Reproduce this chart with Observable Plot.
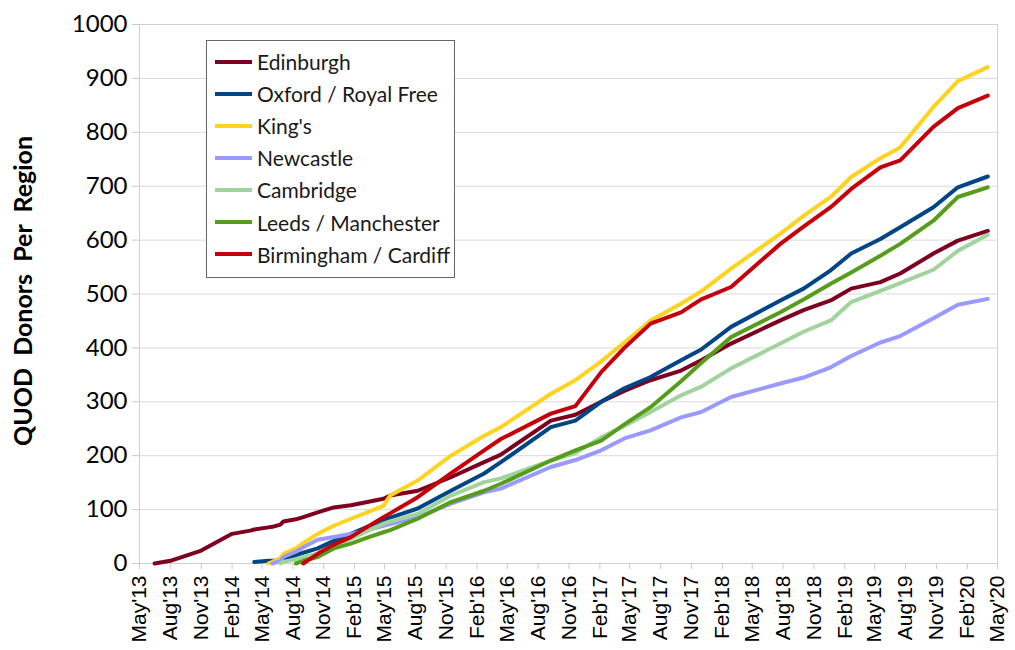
<!DOCTYPE html>
<html><head><meta charset="utf-8">
<script src="https://cdn.jsdelivr.net/npm/d3@7"></script>
<script src="https://cdn.jsdelivr.net/npm/@observablehq/plot@0.6"></script>
<style>
body{margin:0;background:#fff;}
#wrap{position:relative;width:1015px;height:650px;}
#legend{position:absolute;left:206px;top:40px;width:249px;height:238px;border:1px solid #666;background:#fff;box-sizing:border-box;font-family:Lato,sans-serif;font-size:21px;color:#1a1a1a;}
.row{position:absolute;left:0;height:32px;display:flex;align-items:center;white-space:nowrap;}
.sw{width:37px;height:4px;margin-left:8px;margin-right:5px;}
</style></head><body><div id="wrap"></div>
<script>
const dates = ["2013-06-15","2013-08-01","2013-11-01","2014-02-01","2014-03-27","2014-04-08","2014-05-20","2014-06-01","2014-06-25","2014-07-04","2014-08-10","2014-09-01","2014-10-14","2014-12-01","2015-01-21","2015-03-11","2015-04-28","2015-05-18","2015-08-08","2015-11-15","2016-02-22","2016-04-12","2016-09-08","2016-11-20","2017-02-05","2017-04-15","2017-07-02","2017-10-01","2017-11-30","2018-02-27","2018-07-24","2018-10-01","2018-12-21","2019-02-20","2019-05-18","2019-07-16","2019-10-23","2020-01-04","2020-04-02"];

const names = ["Edinburgh","Oxford / Royal Free","King's","Newcastle","Cambridge","Leeds / Manchester","Birmingham / Cardiff"];
const colors = ["#7e0021","#004586","#ffd320","#9999ff","#a1d49c","#579d1c","#c5000b"];

const edinburgh = [0,5,24,55,61,63,67,68,72,78,82,86,95,104,108,114,120,126,135,160,188,202,265,276,300,320,340,358,377,408,451,470,488,510,522,538,575,599,617];
const oxford = [null,null,null,null,null,3,5,5,6,9,15,20,28,42,55,68,80,85,102,135,167,188,253,265,300,325,346,377,397,439,488,510,544,575,602,624,661,698,718];
const kings = [null,null,null,null,null,null,0,3,10,18,28,38,55,70,83,95,107,126,154,200,237,253,315,340,375,410,451,482,505,547,612,645,680,717,752,772,847,895,921];
const newcastle = [null,null,null,null,null,null,null,0,5,12,22,30,44,49,55,62,70,73,86,111,132,139,179,192,210,232,247,271,281,309,334,345,364,385,410,422,455,480,491];
const cambridge = [null,null,null,null,null,null,null,null,0,3,8,12,18,32,46,60,74,78,92,126,151,158,191,205,234,255,281,312,328,362,408,430,451,485,506,520,545,580,610];
const leeds = [null,null,null,null,null,null,null,null,null,null,0,5,12,28,37,48,58,62,83,114,135,148,191,210,228,258,290,338,372,420,466,490,519,540,571,593,636,680,698];
const birmingham = [null,null,null,null,null,null,null,null,null,null,null,0,18,35,49,68,86,93,123,167,210,231,278,292,355,400,445,466,490,513,593,625,661,695,735,748,810,845,868];

const yTicks = [0,100,200,300,400,500,600,700,800,900,1000];
const xTickLabels = ["May'13","Aug'13","Nov'13","Feb'14","May'14","Aug'14","Nov'14","Feb'15","May'15","Aug'15","Nov'15","Feb'16","May'16","Aug'16","Nov'16","Feb'17","May'17","Aug'17","Nov'17","Feb'18","May'18","Aug'18","Nov'18","Feb'19","May'19","Aug'19","Nov'19","Feb'20","May'20"];

const parse = d3.utcParse("%Y-%m-%d");
const tickParse = d3.utcParse("%b'%y");
const xTicks = xTickLabels.map(s => tickParse(s));
const fmt = d3.utcFormat("%b'%y");

const seriesValues = [edinburgh, oxford, kings, newcastle, cambridge, leeds, birmingham];
const rows = [];
seriesValues.forEach((vals, k) => vals.forEach((v, i) => {
  if (v != null) rows.push({date: parse(dates[i]), value: v, region: names[k]});
}));

const chart = Plot.plot({
  width: 1015, height: 650,
  marginLeft: 139, marginRight: 18, marginTop: 24, marginBottom: 87,
  style: {background: "#fff", fontFamily: "Lato, sans-serif", overflow: "visible"},
  x: {type: "utc", domain: [parse("2013-05-01"), parse("2020-05-01")]},
  y: {domain: [0, 1000]},
  color: {domain: names, range: colors},
  marks: [
    Plot.gridY(yTicks, {stroke: "#d9d9d9", strokeOpacity: 1}),
    Plot.frame({stroke: "#d0d0d0"}),
    Plot.axisY(yTicks, {tickSize: 7, tickPadding: 5, fontSize: 24, fill: "#000", stroke: "#c8c8c8", tickFormat: d => String(d), label: null}),
    Plot.axisX(xTicks, {tickSize: 6, tickPadding: 6, tickRotate: -90, tickFormat: fmt, fontSize: 21, fontFamily: "Liberation Sans, Arial, sans-serif", fill: "#000", stroke: "#c8c8c8", label: null}),
    Plot.line(rows, {x: "date", y: "value", z: "region", stroke: "region", strokeWidth: 4, strokeLinejoin: "round", strokeLinecap: "round"})
  ]
});

const wrap = document.getElementById("wrap");
wrap.appendChild(chart);

d3.select(chart).append("text")
  .attr("transform", "translate(32,291) rotate(-90)")
  .attr("text-anchor", "middle")
  .style("font-family", "Lato, sans-serif")
  .style("font-weight", "bold")
  .style("font-size", "25px")
  .style("white-space", "pre")
  .attr("fill", "#000")
  .text("QUOD  Donors  Per  Region");

const legend = document.createElement("div");
legend.id = "legend";
names.forEach((n, i) => {
  const r = document.createElement("div");
  r.className = "row";
  r.style.top = (4.5 + i * 32.1) + "px";
  const sw = document.createElement("span");
  sw.className = "sw";
  sw.style.background = colors[i];
  const t = document.createElement("span");
  t.textContent = n;
  r.appendChild(sw); r.appendChild(t);
  legend.appendChild(r);
});
wrap.appendChild(legend);
</script></body></html>
